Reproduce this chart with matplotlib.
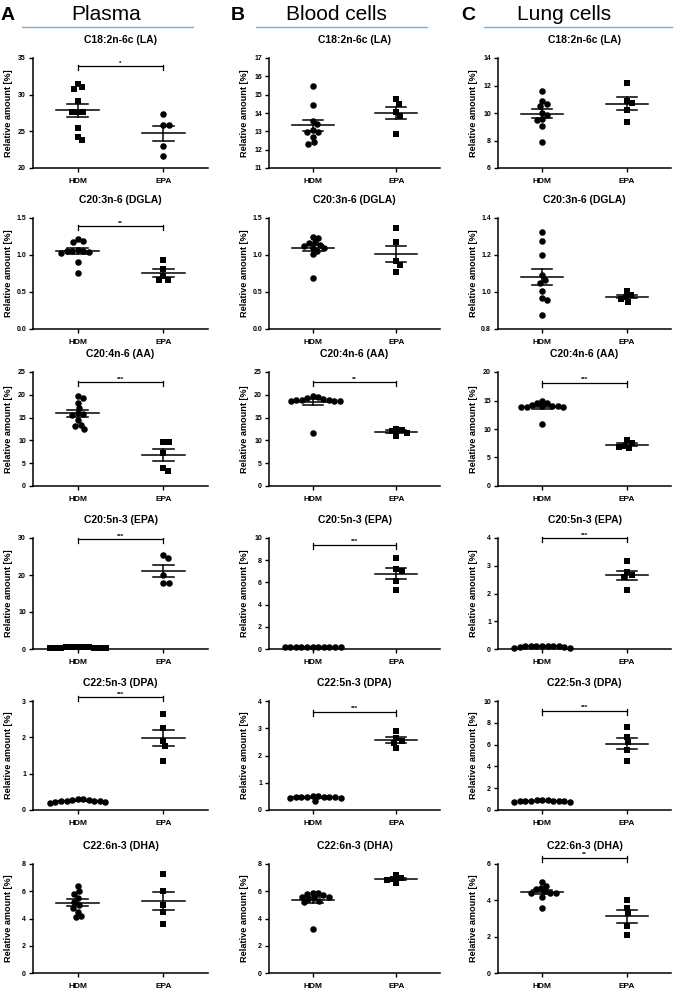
import numpy as np
import matplotlib
matplotlib.use("Agg")
import matplotlib.pyplot as plt
from matplotlib.lines import Line2D

plt.rcParams['font.family'] = ['Liberation Sans', 'DejaVu Sans']

# Data
fatty_acids = ["C18:2n-6c (LA)", "C20:3n-6 (DGLA)", "C20:4n-6 (AA)",
               "C20:5n-3 (EPA)", "C22:5n-3 (DPA)", "C22:6n-3 (DHA)"]
groups = ["HDM", "EPA"]
tissues = ["Plasma", "Blood cells", "Lung cells"]
panel_letters = ["A", "B", "C"]

plasma_hdm = [
    [31.4, 30.8, 31.0, 29.2, 27.7, 27.6, 27.7, 25.5, 24.2, 23.8],
    [1.22, 1.19, 1.18, 1.07, 1.06, 1.05, 1.04, 1.03, 1.05, 0.90, 0.75],
    [19.8, 19.3, 18.3, 17.1, 15.9, 15.7, 15.5, 14.4, 13.4, 13.1, 12.4],
    [0.5, 0.4, 0.45, 0.35, 0.5, 0.3, 0.4, 0.45, 0.35, 0.5, 0.4],
    [0.30, 0.28, 0.26, 0.25, 0.24, 0.22, 0.20, 0.21, 0.25, 0.27, 0.29],
    [6.4, 6.0, 5.8, 5.5, 5.2, 5.0, 4.8, 4.5, 4.2, 4.1],
]
plasma_epa = [
    [27.3, 25.8, 25.8, 23.0, 21.7],
    [0.93, 0.81, 0.71, 0.66, 0.66],
    [9.65, 9.6, 7.2, 3.95, 3.3],
    [25.5, 24.6, 20.1, 17.8, 17.8],
    [2.65, 2.25, 1.9, 1.75, 1.35],
    [7.3, 6.0, 5.0, 4.5, 3.6],
]
blood_hdm = [
    [15.46, 14.41, 13.56, 13.40, 13.05, 12.97, 12.97, 12.71, 12.32, 12.41],
    [1.24, 1.23, 1.17, 1.16, 1.14, 1.12, 1.10, 1.09, 1.06, 1.02, 0.69],
    [19.6, 19.0, 18.8, 18.7, 18.7, 18.8, 18.7, 18.9, 19.4, 19.7, 11.7],
    [0.2, 0.22, 0.18, 0.2, 0.19, 0.15, 0.2, 0.21, 0.19, 0.2, 0.22],
    [0.5, 0.48, 0.47, 0.46, 0.45, 0.44, 0.46, 0.48, 0.49, 0.5, 0.32],
    [5.9, 5.9, 5.8, 5.7, 5.6, 5.6, 5.5, 5.4, 5.3, 5.2, 3.2],
]
blood_epa = [
    [14.76, 14.5, 14.07, 13.84, 12.88],
    [1.37, 1.17, 0.92, 0.86, 0.77],
    [12.6, 12.3, 12.0, 11.7, 11.0],
    [8.17, 7.25, 7.07, 6.09, 5.28],
    [2.9, 2.63, 2.55, 2.45, 2.27],
    [7.2, 7.0, 6.9, 6.8, 6.6],
]
lung_hdm = [
    [11.6, 10.88, 10.51, 10.66, 9.99, 9.84, 9.55, 9.48, 9.05, 7.92],
    [1.324, 1.276, 1.20, 1.09, 1.064, 1.05, 1.005, 0.969, 0.958, 0.876],
    [14.6, 14.2, 14.0, 13.9, 13.8, 13.9, 14.0, 14.1, 14.5, 15.0, 10.8],
    [0.12, 0.12, 0.11, 0.10, 0.08, 0.03, 0.05, 0.09, 0.11, 0.12, 0.12],
    [0.9, 0.85, 0.8, 0.8, 0.75, 0.7, 0.8, 0.85, 0.9, 0.95, 0.85],
    [5.0, 4.8, 4.7, 4.6, 4.5, 4.4, 4.4, 4.4, 4.2, 3.6],
]
lung_epa = [
    [12.2, 10.85, 10.75, 10.22, 9.31],
    [1.005, 0.985, 0.975, 0.962, 0.948],
    [8.0, 7.5, 7.1, 6.9, 6.6],
    [3.17, 2.76, 2.66, 2.58, 2.13],
    [7.6, 6.7, 6.2, 5.5, 4.5],
    [4.0, 3.6, 3.3, 2.6, 2.1],
]

# y ticks per panel
plasma_ticks = [[20, 25, 30, 35], [0, 0.5, 1.0, 1.5], [0, 5, 10, 15, 20, 25],
                [0, 10, 20, 30], [0, 1, 2, 3], [0, 2, 4, 6, 8]]
blood_ticks = [[11, 12, 13, 14, 15, 16, 17], [0, 0.5, 1.0, 1.5], [0, 5, 10, 15, 20, 25],
               [0, 2, 4, 6, 8, 10], [0, 1, 2, 3, 4], [0, 2, 4, 6, 8]]
lung_ticks = [[6, 8, 10, 12, 14], [0.8, 1.0, 1.2, 1.4], [0, 5, 10, 15, 20],
              [0, 1, 2, 3, 4], [0, 2, 4, 6, 8, 10], [0, 2, 4, 6]]

# significance stars and bar heights
plasma_sig = ["*", "**", "***", "***", "***", ""]
blood_sig = ["", "", "**", "***", "***", ""]
lung_sig = ["", "", "***", "***", "***", "**"]
plasma_bar = [33.9, 1.39, 22.7, 29.7, 3.1, None]
blood_bar = [None, None, 22.7, 9.4, 3.6, None]
lung_bar = [None, None, 18.1, 4.0, 9.1, 6.35]

# marker for HDM group (plasma LA and EPA use squares for HDM)
plasma_hdm_marker = ["s", "o", "o", "s", "o", "o"]

hdm_all = [plasma_hdm, blood_hdm, lung_hdm]
epa_all = [plasma_epa, blood_epa, lung_epa]
ticks_all = [plasma_ticks, blood_ticks, lung_ticks]
sig_all = [plasma_sig, blood_sig, lung_sig]
bar_all = [plasma_bar, blood_bar, lung_bar]

W, H = 690, 991
fig = plt.figure(figsize=(W / 100, H / 100), dpi=100)

col_left = [33, 269, 498]
col_right = [208, 440, 671]
row_top = [58, 218, 372, 538, 701, 864]
row_bot = [168, 329, 486, 649, 810, 973]
XLIM = (-0.52, 1.52)


def swarm(y, ppu_y, ppu_x, d=5.6):
    # simple beeswarm: offset points sideways so markers don't overlap
    ypx = np.asarray(y, float) * ppu_y
    xs = np.zeros(len(ypx))
    placed = []
    for i in np.argsort(-ypx):
        cands = [0.0]
        for px, py in placed:
            dy = abs(ypx[i] - py)
            if dy < d:
                dx = np.sqrt(d * d - dy * dy)
                cands += [px + dx, px - dx]
        cands.sort(key=abs)
        for c in cands:
            if all((c - px) ** 2 + (ypx[i] - py) ** 2 >= d * d - 1e-6 for px, py in placed):
                xs[i] = c
                break
        placed.append((xs[i], ypx[i]))
    return xs / ppu_x


def fmt(v, ticks):
    if any(abs(t - round(t)) > 1e-9 for t in ticks):
        return "%.1f" % v
    return "%d" % v


for c in range(3):
    for r in range(6):
        l, rr = col_left[c], col_right[c]
        t, b = row_top[r], row_bot[r]
        ax = fig.add_axes([l / W, 1 - b / H, (rr - l) / W, (b - t) / H])
        ticks = ticks_all[c][r]
        ax.set_xlim(*XLIM)
        ax.set_ylim(ticks[0], ticks[-1])
        ppu_y = (b - t) / (ticks[-1] - ticks[0])
        ppu_x = (rr - l) / (XLIM[1] - XLIM[0])

        hdm = hdm_all[c][r]
        epa = epa_all[c][r]
        m_h = plasma_hdm_marker[r] if c == 0 else "o"
        m_e = "o" if m_h == "s" else "s"
        for gi, (vals, mk) in enumerate([(hdm, m_h), (epa, m_e)]):
            vals = np.asarray(vals)
            xo = swarm(vals - ticks[0], ppu_y, ppu_x)
            ax.scatter(gi + xo, vals, marker=mk, s=20 if mk == "s" else 22,
                       color="black", linewidths=0, zorder=3, clip_on=False)
            mean = vals.mean()
            sem = vals.std(ddof=1) / np.sqrt(len(vals))
            ax.plot([gi - 0.25, gi + 0.25], [mean, mean], color="black", lw=1.1, zorder=4)
            ax.plot([gi - 0.12, gi + 0.12], [mean + sem] * 2, color="black", lw=1.1, zorder=4)
            ax.plot([gi - 0.12, gi + 0.12], [mean - sem] * 2, color="black", lw=1.1, zorder=4)
            ax.plot([gi, gi], [mean - sem, mean + sem], color="black", lw=1.1, zorder=4)

        lvl = bar_all[c][r]
        if lvl is not None:
            cap = 4.0 / ppu_y
            ax.plot([0, 1], [lvl, lvl], color="black", lw=0.9, clip_on=False)
            for xx in (0, 1):
                ax.plot([xx, xx], [lvl + 1.5 / ppu_y, lvl - cap], color="black",
                        lw=0.9, clip_on=False)
            ax.text(0.5, lvl + 0.5 / ppu_y, sig_all[c][r], ha="center", va="bottom",
                    fontsize=4.5, fontweight="bold")

        ax.spines["top"].set_visible(False)
        ax.spines["right"].set_visible(False)
        ax.spines["left"].set_linewidth(1.1)
        ax.spines["bottom"].set_linewidth(1.1)
        ax.set_xticks([0, 1])
        ax.set_xticklabels(groups, fontsize=6, fontweight="bold")
        ax.set_yticks(ticks)
        ax.set_yticklabels([fmt(v, ticks) for v in ticks], fontsize=5, fontweight="bold")
        ax.tick_params(axis="both", length=3, width=1.0, pad=2)
        ax.tick_params(axis="x", pad=4)
        ax.set_ylabel("Relative amount [%]", fontsize=6.6, fontweight="bold")
        ax.yaxis.set_label_coords(-20 / (rr - l), 0.5)
        ax.annotate(fatty_acids[r], xy=(0.5, 1), xycoords="axes fraction",
                    xytext=(0, 13), textcoords="offset points", ha="center",
                    va="center", fontsize=7.5, fontweight="bold")

# column headers
header_x = [106, 336, 564]
line_span = [(22, 193), (256, 427), (484, 672)]
letter_x = [1, 231, 461]
for c in range(3):
    fig.text(header_x[c] / W, 1 - 15 / H, tissues[c], ha="center", va="center", fontsize=15)
    fig.text(letter_x[c] / W, 1 - 15 / H, panel_letters[c], ha="left", va="center",
             fontsize=14, fontweight="bold")
    x0, x1 = line_span[c]
    fig.add_artist(Line2D([x0 / W, x1 / W], [1 - 27 / H, 1 - 27 / H],
                          color="#7aaee0", lw=1.0, transform=fig.transFigure))

fig.savefig("out.png", dpi=100)
